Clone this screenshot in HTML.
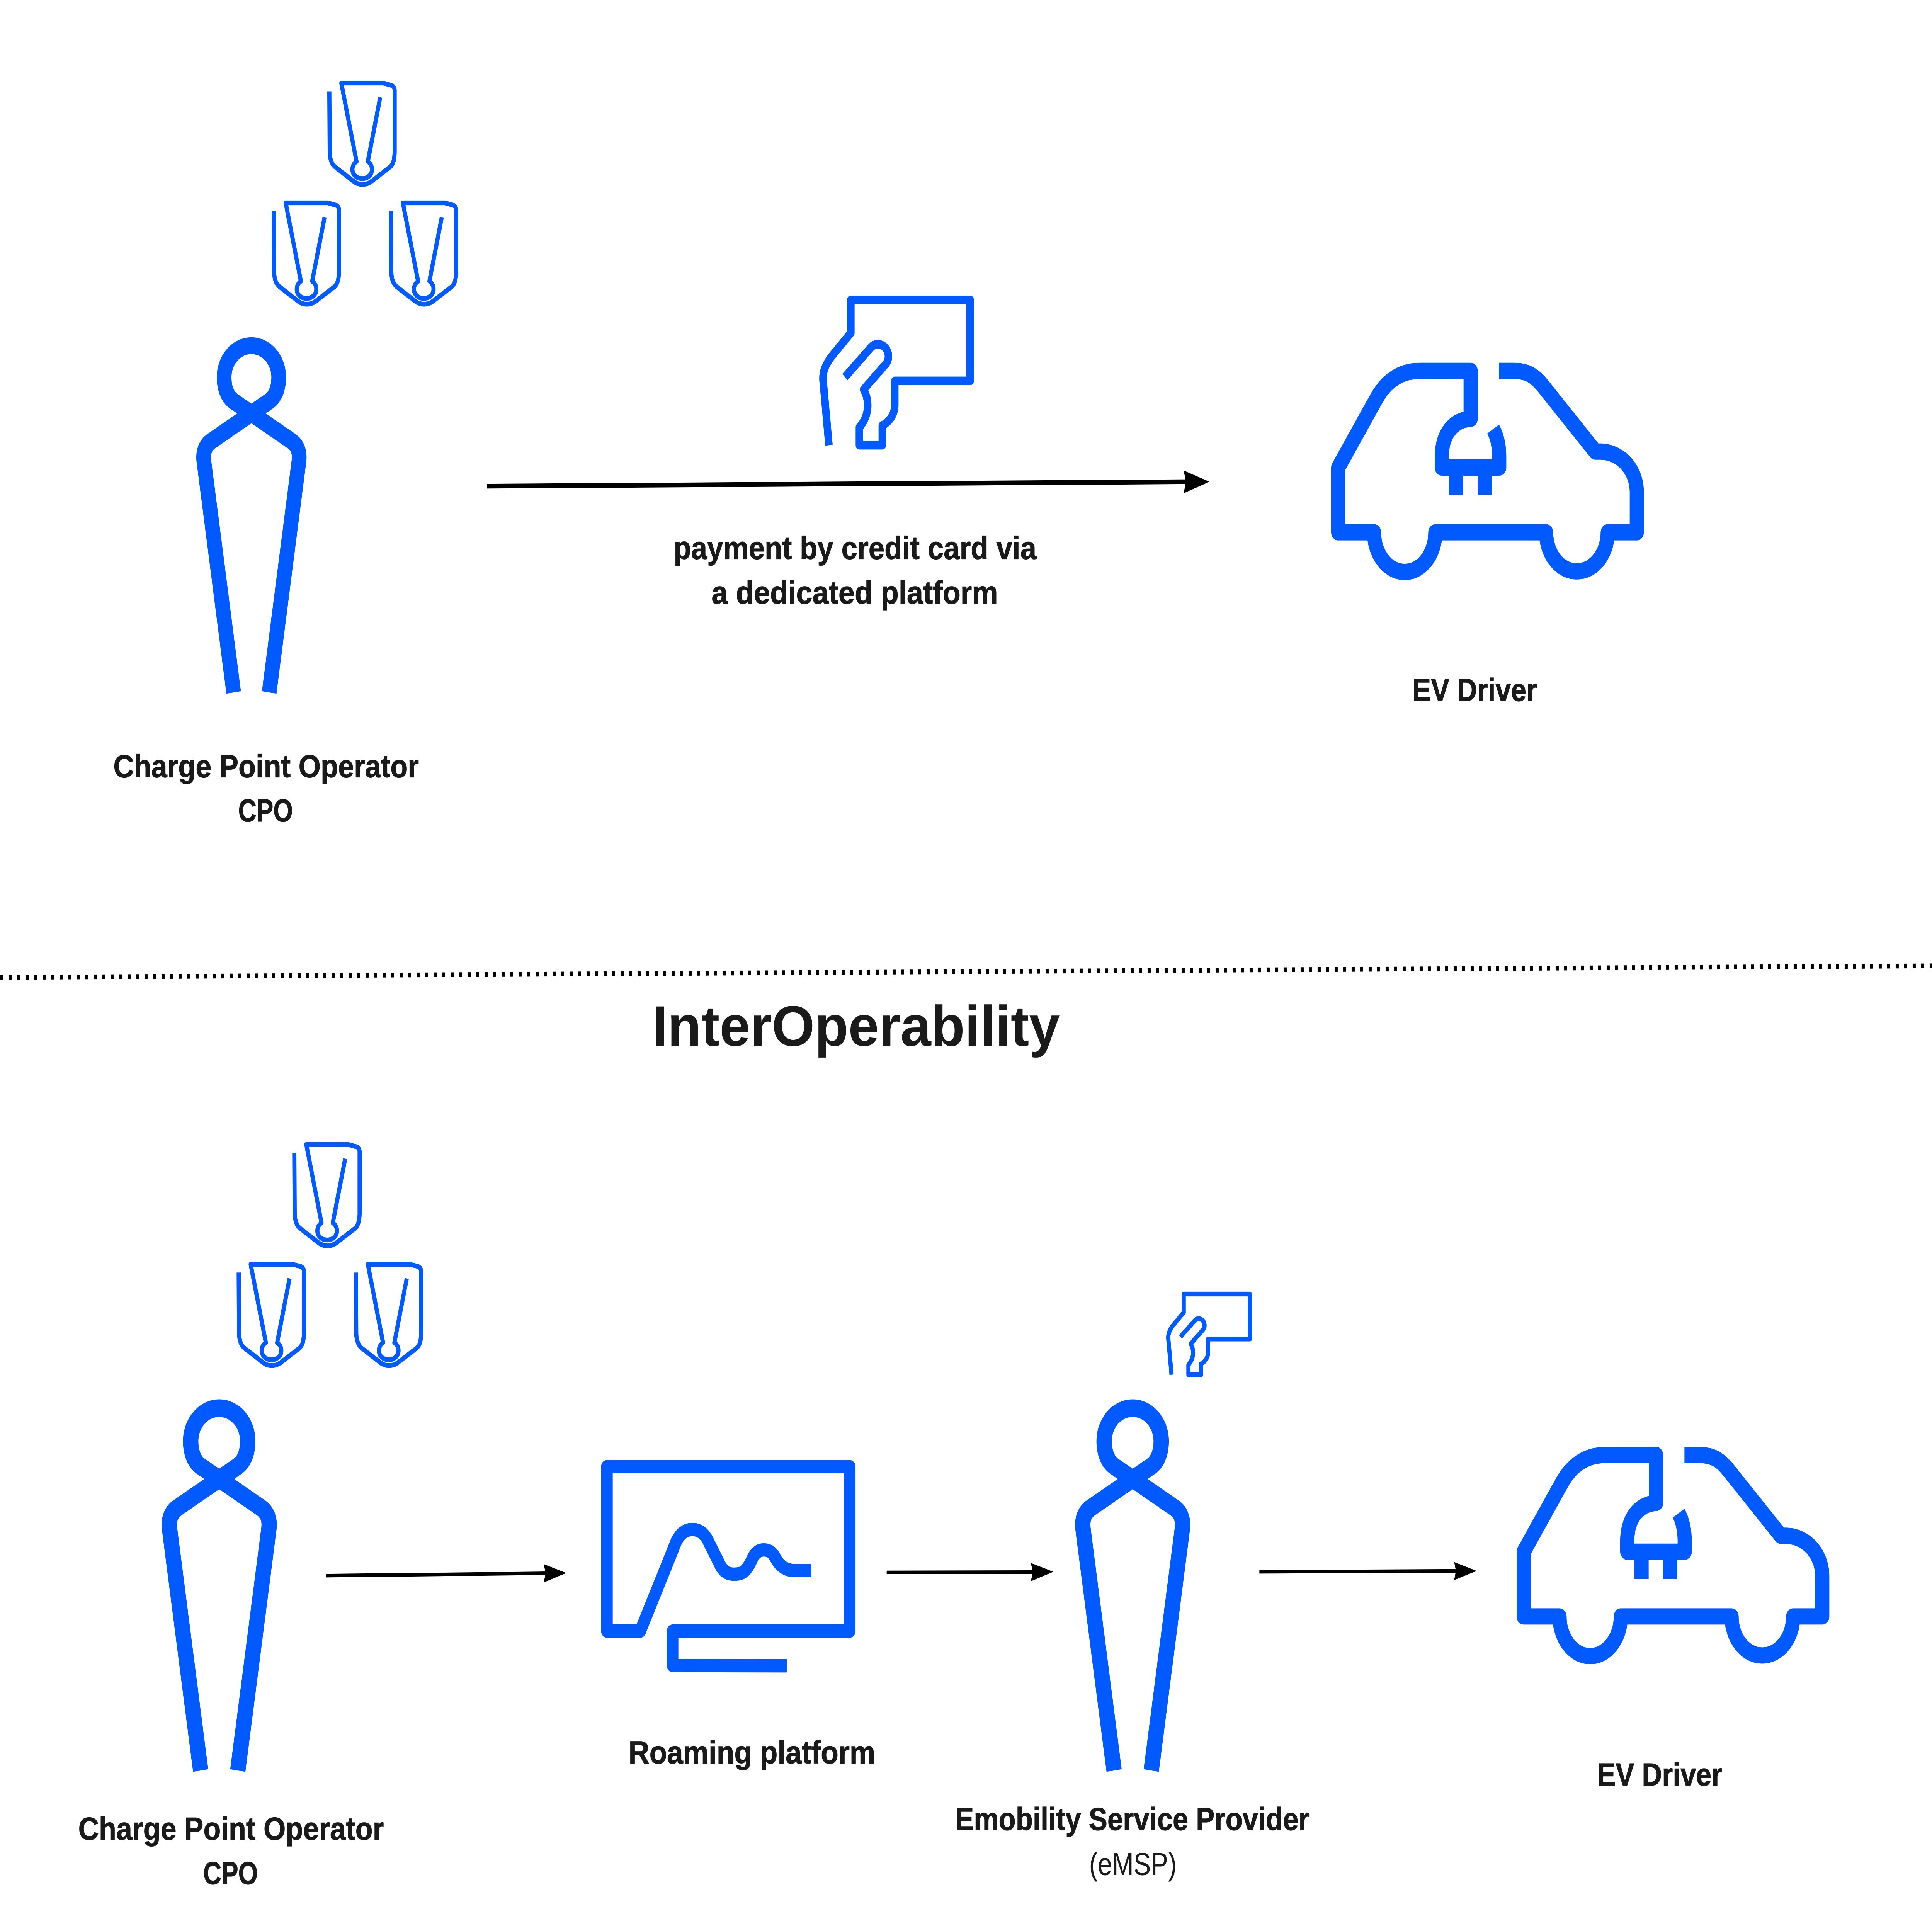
<!DOCTYPE html>
<html><head><meta charset="utf-8">
<style>
html,body{margin:0;padding:0;background:#fff;overflow:hidden;width:100%;height:100%}
svg.root{display:block;width:100vw;height:100vh}
text{font-family:"Liberation Sans",sans-serif;fill:#1a1a1a}
.b{font-weight:700;font-size:108px;stroke:#1a1a1a;stroke-width:1.5px}
</style></head>
<body>
<svg class="root" xmlns="http://www.w3.org/2000/svg" viewBox="0 0 7500 6533" preserveAspectRatio="none">
<rect width="7500" height="6533" fill="#fff"/>
<defs>
<g id="tag" fill="none" stroke="#005AFF" stroke-width="16" stroke-linejoin="round">
<path d="M1278.5 309 L1280 516 C1281 538 1288 555 1301 564.5 L1374 614 C1394 627 1420 627 1441 614 L1514.5 564.5 C1527 555 1531 538 1532 516 L1532 306 C1532 298 1528 292 1521 289 L1488 281 L1325 281 L1384 546 C1376 551 1368 560 1368 573 C1368 591 1385 604 1406 604 C1427 604 1444 591 1444 573 C1444 560 1436 551 1428 546 L1476 329"/>
</g>
<g id="person" fill="none" stroke="#005AFF" stroke-width="57" stroke-linejoin="round">
<path d="M-69 943.5 L-185 158 C-188 130 -178 108 -158 95 L0 0 L70 -42 C95 -58 106 -90 106 -122 C106 -180 60 -229 0 -229 C-60 -229 -106 -180 -106 -122 C-106 -90 -95 -58 -70 -42 L0 0 L158 95 C178 108 188 130 185 158 L69 943.5"/>
</g>
<g id="card" fill="none" stroke="#005AFF" stroke-width="29" stroke-linejoin="round">
<path d="M3218 1505.5 L3196 1294 C3190 1260 3205 1230 3234 1199 L3303 1126 V1014 H3766 V1288 H3473.5 V1369 C3473.5 1400 3455 1425 3425 1439 V1505.5 H3336 V1445 C3362 1420 3385 1370 3352.5 1317 L3439.6 1230 C3455 1212 3450 1185 3432 1172 C3415 1160 3395 1162 3382 1174 L3280 1275"/>
</g>
<g id="car" fill="none" stroke="#005AFF" stroke-width="55" stroke-linejoin="round">
<path d="M5819 1254 H5875 C5925 1254 5955 1268 5987 1302 L6193 1527 H6215 C6295 1530 6354 1590 6354 1665 V1800 H6241 C6241 1870 6190 1932 6121 1932 C6052 1932 6002 1870 6002 1800 H5572 C5572 1870 5522 1934 5453 1934 C5384 1934 5334 1870 5334 1800 H5195 V1581 L5345 1345 C5385 1285 5440 1254 5513 1254 H5709 V1416 C5640 1420 5597 1470 5597 1545 V1581 H5820 V1545 C5820 1510 5812 1475 5796 1451"/>
<rect x="5625" y="1590" width="55" height="83" fill="#005AFF" stroke="none"/>
<rect x="5736" y="1590" width="55" height="83" fill="#005AFF" stroke="none"/>
</g>
</defs>

<!-- upper tags -->
<use href="#tag"/>
<use href="#tag" transform="translate(-216,405)"/>
<use href="#tag" transform="translate(239,405)"/>
<use href="#person" transform="translate(976,1398)"/>
<use href="#card"/>
<use href="#car"/>

<!-- upper arrow -->
<path d="M1890 1644 L4610 1629" stroke="#000" stroke-width="16" fill="none"/>
<polygon points="4695,1629 4595,1591 4604,1629 4595,1668" fill="#000"/>

<text class="b" x="2615" y="1890" textLength="1408" lengthAdjust="spacingAndGlyphs">payment by credit card via</text>
<text class="b" x="2762" y="2041" textLength="1112" lengthAdjust="spacingAndGlyphs">a dedicated platform</text>
<text class="b" x="440" y="2628" textLength="1186" lengthAdjust="spacingAndGlyphs">Charge Point Operator</text>
<text class="b" x="925" y="2778" textLength="212" lengthAdjust="spacingAndGlyphs">CPO</text>
<text class="b" x="5483" y="2370" textLength="484" lengthAdjust="spacingAndGlyphs">EV Driver</text>

<!-- dotted divider -->
<path d="M0 3305 L7500 3266" stroke="#000" stroke-width="16" stroke-dasharray="12 21" fill="none"/>

<text x="2532" y="3536" font-weight="700" font-size="193" textLength="1582" lengthAdjust="spacingAndGlyphs">InterOperability</text>

<!-- lower tags -->
<use href="#tag" transform="translate(-136,3589)"/>
<use href="#tag" transform="translate(-352,3994)"/>
<use href="#tag" transform="translate(103,3994)"/>
<use href="#person" transform="translate(851,5001) scale(1.045)"/>
<use href="#person" transform="translate(4397,5001) scale(1.045)"/>
<use href="#card" transform="translate(2762,3813) scale(.555)"/>
<use href="#car" transform="translate(720,3666)"/>

<!-- monitor -->
<g fill="none" stroke="#005AFF" stroke-width="45" stroke-linejoin="round">
<path d="M3150 5311 H3087 C3045 5311 3022 5290 3006 5262 C2994 5245 2982 5241 2964 5241 C2945 5241 2930 5252 2920 5272 C2895 5318 2880 5323 2848 5323 C2822 5323 2808 5312 2796 5293 L2747 5207 C2733 5184 2712 5172 2688 5172 C2660 5172 2642 5186 2627 5209 L2485.5 5515.5 H2356 V4959.5 H3298.6 V5515.5 H2611 V5632 L3054 5633"/>
</g>

<!-- lower arrows -->
<path d="M1266 5328 L2118 5320" stroke="#000" stroke-width="12" fill="none"/>
<polygon points="2198,5319 2111,5289 2118,5320 2111,5351" fill="#000"/>
<path d="M3442 5317 L4010 5316" stroke="#000" stroke-width="12" fill="none"/>
<polygon points="4089,5315 4002,5285 4009,5316 4002,5347" fill="#000"/>
<path d="M4889 5315 L5652 5312" stroke="#000" stroke-width="12" fill="none"/>
<polygon points="5732,5312 5645,5282 5652,5312 5645,5343" fill="#000"/>

<text class="b" x="2440" y="5963" textLength="958" lengthAdjust="spacingAndGlyphs">Roaming platform</text>
<text class="b" x="304" y="6221" textLength="1186" lengthAdjust="spacingAndGlyphs">Charge Point Operator</text>
<text class="b" x="789" y="6371" textLength="212" lengthAdjust="spacingAndGlyphs">CPO</text>
<text class="b" x="3708" y="6188" textLength="1375" lengthAdjust="spacingAndGlyphs">Emobility Service Provider</text>
<text x="4228" y="6340" font-size="108" textLength="340" lengthAdjust="spacingAndGlyphs">(eMSP)</text>
<text class="b" x="6200" y="6038" textLength="486" lengthAdjust="spacingAndGlyphs">EV Driver</text>
</svg>
</body></html>
